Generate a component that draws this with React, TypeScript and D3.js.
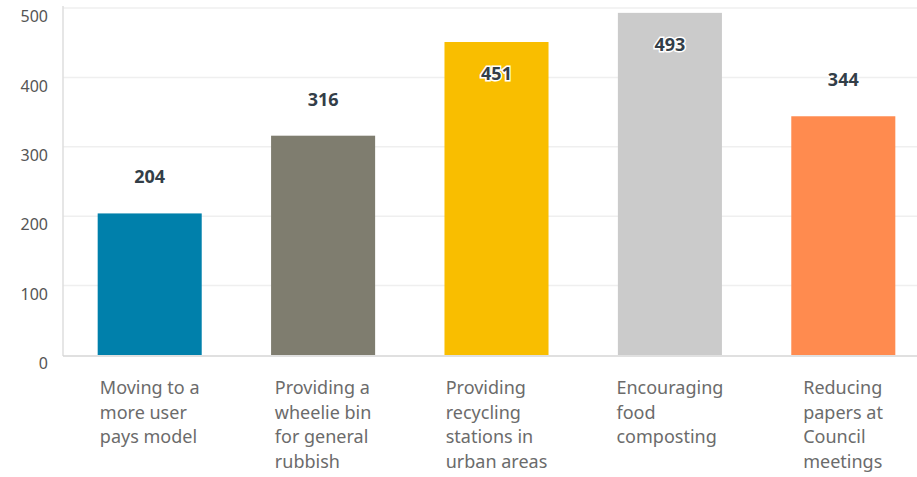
import React, { useEffect, useRef } from 'react';
import * as d3 from 'd3';

const categories = [
  'Moving to a more user pays model',
  'Providing a wheelie bin for general rubbish',
  'Providing recycling stations in urban areas',
  'Encouraging food composting',
  'Reducing papers at Council meetings',
];
const labelLines = [
  ['Moving to a', 'more user', 'pays model'],
  ['Providing a', 'wheelie bin', 'for general', 'rubbish'],
  ['Providing', 'recycling', 'stations in', 'urban areas'],
  ['Encouraging', 'food', 'composting'],
  ['Reducing', 'papers at', 'Council', 'meetings'],
];
const values = [204, 316, 451, 493, 344];
const colors = ['#0080ab', '#7f7d6f', '#f9be00', '#cbcbcb', '#ff8b4f'];
const yTicks = [0, 100, 200, 300, 400, 500];

const W = 917;
const H = 477;
const FONT = '"Noto Sans", "Open Sans", sans-serif';

const App: React.FC = () => {
  const svgRef = useRef<SVGSVGElement>(null);

  useEffect(() => {
    if (!svgRef.current) return;
    const svg = d3.select(svgRef.current);
    svg.selectAll('*').remove();

    const left = 63;
    const right = 930;
    const top = 8;
    const bottom = 355;

    const x = d3.scaleBand<string>().domain(categories).range([left, right])
      .paddingInner(0.4).paddingOuter(0.2);
    const y = d3.scaleLinear().domain([0, 500]).range([bottom, top]);

    // grid lines
    svg.append('g')
      .selectAll('line')
      .data(yTicks.filter(t => t > 0))
      .join('line')
      .attr('x1', left)
      .attr('x2', W)
      .attr('y1', d => y(d))
      .attr('y2', d => y(d))
      .attr('stroke', '#efefef')
      .attr('stroke-width', 1.5);

    // y tick labels
    svg.append('g')
      .selectAll('text')
      .data(yTicks)
      .join('text')
      .attr('x', 48)
      .attr('y', d => y(d) + 10)
      .attr('text-anchor', 'end')
      .attr('dominant-baseline', 'middle')
      .attr('fill', '#555')
      .attr('font-family', FONT)
      .attr('font-size', 16)
      .text(d => d);

    // bars
    svg.append('g')
      .selectAll('rect')
      .data(values)
      .join('rect')
      .attr('x', (_, i) => x(categories[i])!)
      .attr('y', d => y(d))
      .attr('width', x.bandwidth())
      .attr('height', d => bottom - y(d))
      .attr('fill', (_, i) => colors[i]);

    // axes lines
    svg.append('line')
      .attr('x1', left).attr('x2', left)
      .attr('y1', top - 2).attr('y2', bottom + 1)
      .attr('stroke', '#dedede').attr('stroke-width', 1.5);
    svg.append('line')
      .attr('x1', left).attr('x2', W)
      .attr('y1', bottom + 1).attr('y2', bottom + 1)
      .attr('stroke', '#d6d6d6').attr('stroke-width', 1.5);

    // value labels
    svg.append('g')
      .selectAll('text')
      .data(values)
      .join('text')
      .attr('x', (_, i) => x(categories[i])! + x.bandwidth() / 2)
      .attr('y', d => (y(d) - 35 < top ? y(d) + 33 : y(d) - 35))
      .attr('text-anchor', 'middle')
      .attr('dominant-baseline', 'middle')
      .attr('fill', '#333e48')
      .attr('stroke', '#fff')
      .attr('stroke-width', 3)
      .attr('paint-order', 'stroke')
      .attr('font-family', FONT)
      .attr('font-size', 18)
      .attr('font-weight', 700)
      .text(d => d);

    // category labels, block centred under bar, lines left aligned
    categories.forEach((c, i) => {
      const g = svg.append('g');
      const t = g.append('text')
        .attr('fill', '#6b6b6b')
        .attr('font-family', FONT)
        .attr('font-size', 18);
      labelLines[i].forEach((ln, j) => {
        t.append('tspan')
          .attr('x', 0)
          .attr('y', 394 + j * 24.5)
          .text(ln);
      });
      const w = (t.node() as SVGTextElement).getBBox().width;
      g.attr('transform', `translate(${x(c)! + x.bandwidth() / 2 - w / 2},0)`);
    });
  }, []);

  return (
    <svg
      ref={svgRef}
      width={W}
      height={H}
      style={{ position: 'absolute', left: 0, top: 0, display: 'block' }}
    />
  );
};

export default App;
